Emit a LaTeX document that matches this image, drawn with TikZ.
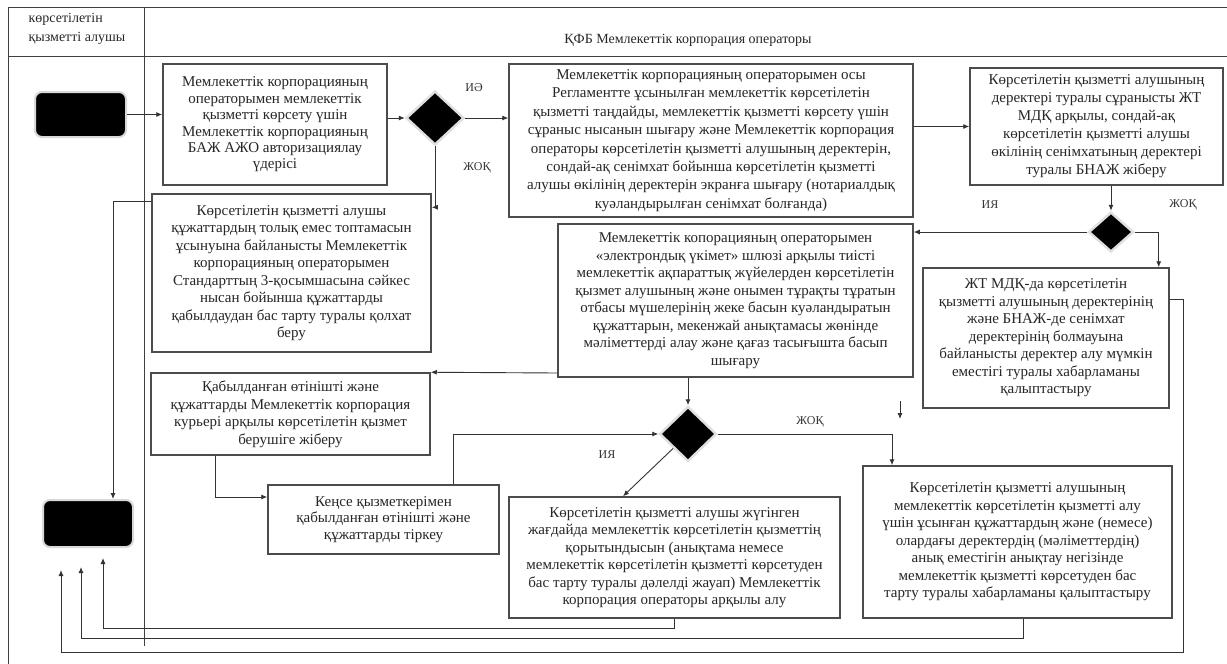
\documentclass[tikz,border=0pt]{standalone}
\usepackage{fontspec}
\setmainfont{Liberation Serif}
\usetikzlibrary{shapes.geometric,arrows.meta,calc}
\newcommand\fsz[2]{\fontsize{#1}{#2}\selectfont}
\begin{document}
\begin{tikzpicture}[x=1pt,y=-1pt,
  box/.style={draw=black!70, line width=1.5pt, fill=white, align=center, inner sep=0pt, text=black!85, font=\fsz{15}{17.5}},
  term/.style={rounded corners=7pt, fill=black, draw=black!15, line width=2pt, inner sep=0pt},
  dec/.style={diamond, fill=black, draw=black!12, line width=2.5pt, inner sep=0pt},
  arr/.style={-{Latex[length=6pt,width=5pt]}, line width=0.9pt, draw=black!80},
  lane/.style={draw=black!75, line width=1pt},
  lbl/.style={font=\fsz{12}{14}, text=black!80, inner sep=0pt},
  hdr/.style={font=\fsz{14}{19}, text=black!85, inner sep=0pt}]
\useasboundingbox (0,0) rectangle (1227,664);
% frame
\draw[lane] (1227,7) -- (8,7) -- (8,664);
\draw[lane] (8,56) -- (1227,56);
\draw[lane] (144,7) -- (144,646);
\node[hdr, align=left] (h1) at (77,29) {көрсетілетін\\қызметті алушы};
\node[hdr] (h2) at (688,40) {ҚФБ Мемлекеттік корпорация операторы};
% terminals
\node[term, minimum width=91pt, minimum height=45pt] (S) at (80.5,114.5) {};
\node[term, minimum width=90pt, minimum height=47pt] (E) at (88,523.5) {};
% boxes
\node[box, font=\fsz{15}{16.4}, minimum width=224pt, minimum height=121pt] (B1) at (275,124.5) {Мемлекеттік корпорацияның\\операторымен мемлекеттік\\қызметті көрсету үшін\\Мемлекеттік корпорацияның\\БАЖ АЖО авторизациялау\\үдерісі};
\node[box, font=\fsz{15}{18.4}, minimum width=404pt, minimum height=153pt] (B2) at (711,140.5) {Мемлекеттік корпорацияның операторымен осы\\Регламентте ұсынылған мемлекеттік көрсетілетін\\қызметті таңдайды, мемлекеттік қызметті көрсету үшін\\сұраныс нысанын шығару және Мемлекеттік корпорация\\операторы көрсетілетін қызметті алушының деректерін,\\сондай-ақ сенімхат бойынша көрсетілетін қызметті\\алушы өкілінің деректерін экранға шығару (нотариалдық\\куәландырылған сенімхат болғанда)};
\node[box, font=\fsz{15}{18}, minimum width=253pt, minimum height=117pt] (B4) at (1096.5,126.5) {Көрсетілетін қызметті алушының\\деректері туралы сұранысты ЖТ\\МДҚ арқылы, сондай-ақ\\көрсетілетін қызметті алушы\\өкілінің сенімхатының деректері\\туралы БНАЖ жіберу};
\node[box, minimum width=279pt, minimum height=158pt] (B3) at (291.5,273) {Көрсетілетін қызметті алушы\\құжаттардың толық емес топтамасын\\ұсынуына байланысты Мемлекеттік\\корпорацияның операторымен\\Стандарттың 3-қосымшасына сәйкес\\нысан бойынша құжаттарды\\қабылдаудан бас тарту туралы қолхат\\беру};
\node[box, minimum width=355pt, minimum height=153pt] (B5) at (735.5,300.5) {Мемлекеттік копорацияның операторымен\\«электрондық үкімет» шлюзі арқылы тиісті\\мемлекеттік ақпараттық жүйелерден көрсетілетін\\қызмет алушының және онымен тұрақты тұратын\\отбасы мүшелерінің жеке басын куәландыратын\\құжаттарын, мекенжай анықтамасы жөнінде\\мәліметтерді алау және қағаз тасығышта басып\\шығару};
\node[box, minimum width=246pt, minimum height=140pt] (B6) at (1046,338) {ЖТ МДҚ-да көрсетілетін\\қызметті алушының деректерінің\\және БНАЖ-де сенімхат\\деректерінің болмауына\\байланысты деректер алу мүмкін\\еместігі туралы хабарламаны\\қалыптастыру};
\node[box, minimum width=279pt, minimum height=82pt] (B9) at (290.5,414) {Қабылданған өтінішті және\\құжаттарды Мемлекеттік корпорация\\курьері арқылы көрсетілетін қызмет\\берушіге жіберу};
\node[box, font=\fsz{15}{16.7}, minimum width=231pt, minimum height=69pt] (B10) at (383.5,519.5) {Кеңсе қызметкерімен\\қабылданған өтінішті және\\құжаттарды тіркеу};
\node[box, minimum width=331pt, minimum height=121pt] (B8) at (674.5,557.5) {Көрсетілетін қызметті алушы жүгінген\\жағдайда мемлекеттік көрсетілетін қызметтің\\қорытындысын (анықтама немесе\\мемлекеттік көрсетілетін қызметті көрсетуден\\бас тарту туралы дәлелді жауап) Мемлекеттік\\корпорация операторы арқылы алу};
\node[box, minimum width=309pt, minimum height=152pt] (B7) at (1017.5,542) {Көрсетілетін қызметті алушының\\мемлекеттік көрсетілетін қызметті алу\\үшін ұсынған құжаттардың және (немесе)\\олардағы деректердің (мәліметтердің)\\анық еместігін анықтау негізінде\\мемлекеттік қызметті көрсетуден бас\\тарту туралы хабарламаны қалыптастыру};
% decisions
\node[dec, minimum width=58pt, minimum height=54pt] (D1) at (435,118) {};
\node[dec, minimum width=45pt, minimum height=40pt] (D2) at (1111,232) {};
\node[dec, minimum width=57pt, minimum height=55pt] (D3) at (688,434) {};
% labels
\node[lbl] (l1) at (474,88) {ИӘ};
\node[lbl] (l2) at (477,168) {ЖОҚ};
\node[lbl] (l3) at (990,205) {ИЯ};
\node[lbl] (l4) at (1183,205) {ЖОҚ};
\node[lbl] (l5) at (810,422) {ЖОҚ};
\node[lbl] (l6) at (607,455) {ИЯ};
% free ends
\coordinate (e1) at (103,558);
\coordinate (e2) at (81,567);
\coordinate (e3) at (61,570);
\coordinate (s1) at (900,401);
\coordinate (s2) at (900,419);
% connectors
\draw[arr] (S.east) -- (S.east -| B1.west);
\draw[arr] (B1.east |- D1.west) -- (D1.west);
\draw[arr] (D1.east) -- (D1.east -| B2.west);
\draw[arr] (D1.south) |- ([yshift=-14pt]B3.north east);
\draw[arr] (B2.east |- B4.west) -- (B4.west);
\draw[arr] (B4.south -| D2.north) -- (D2.north);
\draw[arr] (D2.west) -- (D2.west -| B5.east);
\draw[arr] (D2.east) -| ([xshift=-11pt]B6.north east);
\draw[arr] ([yshift=39pt]B6.east) -- ++(14,0) -- ++(0,353) -| (e3);
\draw[arr] ([xshift=5.5pt]B7.south) -- ++(0,20) -| (e2);
\draw[arr] (B8.south) -- ++(0,10) -| (e1);
\draw[arr] ([yshift=72pt]B3.west) -| ([xshift=25pt]E.north);
\draw[arr] ([yshift=-72.5pt]B5.west) -- (B9.north east);
\draw[arr] (B5.south -| D3.north) -- (D3.north);
\draw[arr] (s1) -- (s2);
\draw[arr] ([xshift=-75.5pt]B9.south) |- ([yshift=22.5pt]B10.west);
\draw[arr] ([xshift=69.5pt]B10.north) |- (D3.west);
\draw[arr] (D3.south west) -- ([xshift=-51.5pt]B8.north);
\draw[arr] (D3.east) -| ([xshift=-125.5pt]B7.north);
\end{tikzpicture}
\end{document}
